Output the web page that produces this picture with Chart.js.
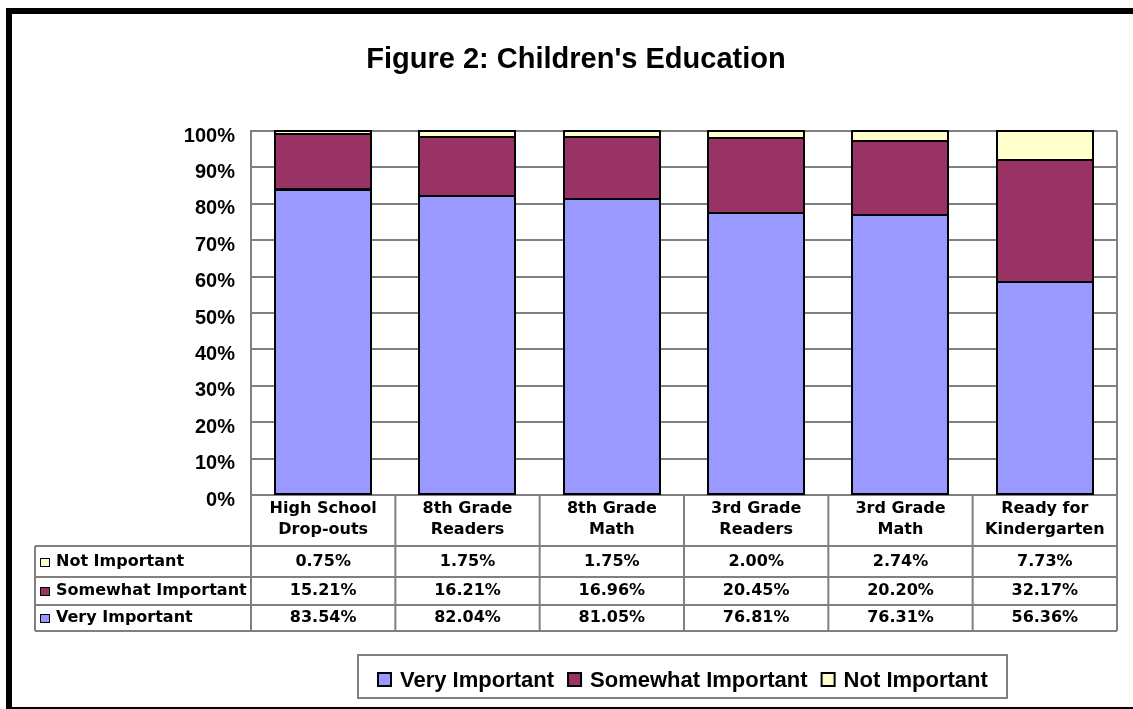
<!DOCTYPE html>
<html><head><meta charset="utf-8">
<script src="https://cdn.jsdelivr.net/npm/chart.js@4/dist/chart.umd.min.js"></script>
<style>html,body{margin:0;padding:0;background:#fff;overflow:hidden}#wrap{width:1133px;height:709px;position:relative}canvas{display:block}</style>
</head><body><div id="wrap"><canvas id="c" width="1133" height="709"></canvas></div>
<script>
const titleText = "Figure 2: Children's Education";
const categories = [["High School","Drop-outs"],["8th Grade","Readers"],["8th Grade","Math"],["3rd Grade","Readers"],["3rd Grade","Math"],["Ready for","Kindergarten"]];
const seriesNames = ["Very Important","Somewhat Important","Not Important"];
const veryImportant = [83.54,82.04,81.05,76.81,76.31,56.36];
const somewhatImportant = [15.21,16.21,16.96,20.45,20.20,32.17];
const notImportant = [0.75,1.75,1.75,2.00,2.74,7.73];
const yTicks = [0,10,20,30,40,50,60,70,80,90,100];
const seriesColors = ['#9999FF','#993366','#FFFFCC'];

const raw = [veryImportant, somewhatImportant, notImportant];
const totals = categories.map((_, i) => raw.reduce((s, arr) => s + arr[i], 0));
const pct = raw.map(arr => arr.map((v, i) => v / totals[i] * 100));

const GRID = '#808080';
const ARIAL = '"Liberation Sans", Arial, sans-serif';
const DEJAVU = '"DejaVu Sans", sans-serif';

const barOutline = {
  id: 'barOutline',
  afterDatasetsDraw(chart) {
    const ctx = chart.ctx;
    ctx.save();
    ctx.strokeStyle = '#000';
    ctx.lineWidth = 2;
    chart.data.datasets.forEach((ds, di) => {
      const meta = chart.getDatasetMeta(di);
      meta.data.forEach(el => {
        const p = el.getProps(['x', 'y', 'base', 'width'], true);
        const top = Math.min(p.y, p.base), h = Math.abs(p.base - p.y);
        ctx.strokeRect(Math.round(p.x - p.width / 2), Math.round(top), Math.round(p.width), Math.round(h));
      });
    });
    ctx.restore();
  }
};

const deco = {
  id: 'deco',
  afterDraw(chart) {
    const ctx = chart.ctx;
    const ca = chart.chartArea;
    const x = chart.scales.x;
    const n = categories.length;
    const colW = (ca.right - ca.left) / n;
    ctx.save();
    // outer frame
    ctx.fillStyle = '#000';
    ctx.fillRect(6, 8, 1133, 6);
    ctx.fillRect(6, 8, 6, 709);
    ctx.fillRect(6, 707, 1133, 6);
    // title
    ctx.font = 'bold 29px ' + ARIAL;
    ctx.textAlign = 'center';
    ctx.textBaseline = 'alphabetic';
    ctx.fillText(titleText, 576, 68);
    // right plot border
    ctx.strokeStyle = GRID;
    ctx.lineWidth = 2;
    ctx.beginPath();
    ctx.moveTo(ca.right, ca.top); ctx.lineTo(ca.right, ca.bottom);
    ctx.stroke();
    // data table
    const tTop = ca.bottom, rowY = [546, 577, 605, 631], tLeft = 35;
    ctx.beginPath();
    for (let i = 0; i <= n; i++) {
      const xx = ca.left + i * colW;
      ctx.moveTo(xx, tTop); ctx.lineTo(xx, rowY[3]);
    }
    ctx.moveTo(tLeft, rowY[0]); ctx.lineTo(tLeft, rowY[3]);
    rowY.forEach(y => { ctx.moveTo(tLeft, y); ctx.lineTo(ca.right, y); });
    ctx.stroke();
    ctx.fillStyle = '#000';
    ctx.textAlign = 'center';
    ctx.textBaseline = 'middle';
    ctx.font = 'bold 16px ' + DEJAVU;
    categories.forEach((lines, i) => {
      const cx = x.getPixelForValue(i);
      ctx.fillText(lines[0], cx, 509);
      ctx.fillText(lines[1], cx, 530);
    });
    const rowOrder = [2, 1, 0];
    const rowCenters = [562, 591, 618];
    rowOrder.forEach((s, r) => {
      const cy = rowCenters[r];
      ctx.textAlign = 'center';
      raw[s].forEach((v, i) => {
        ctx.fillText(v.toFixed(2) + '%', x.getPixelForValue(i), cy);
      });
      ctx.fillStyle = seriesColors[s];
      ctx.fillRect(40, cy - 4, 10, 9);
      ctx.strokeStyle = '#000';
      ctx.lineWidth = 1;
      ctx.strokeRect(40.5, cy - 3.5, 9, 8);
      ctx.fillStyle = '#000';
      ctx.textAlign = 'left';
      ctx.fillText(seriesNames[s], 56, cy);
    });
    // legend box
    const bx0 = 358, bx1 = 1007, by0 = 655, by1 = 698;
    ctx.strokeStyle = GRID;
    ctx.lineWidth = 2;
    ctx.strokeRect(bx0, by0, bx1 - bx0, by1 - by0);
    ctx.font = 'bold 22px ' + ARIAL;
    const keyW = 13, keyGap = 9, itemGap = 14;
    const widths = seriesNames.map(t => ctx.measureText(t).width);
    const total = widths.reduce((a, b) => a + b, 0) + 3 * (keyW + keyGap) + 2 * itemGap;
    let lx = Math.round((bx0 + bx1) / 2 - total / 2);
    const ly = 680;
    ctx.textAlign = 'left';
    ctx.textBaseline = 'middle';
    seriesNames.forEach((t, s) => {
      ctx.fillStyle = seriesColors[s];
      ctx.fillRect(lx, ly - 7, keyW, keyW);
      ctx.strokeStyle = '#000';
      ctx.lineWidth = 2;
      ctx.strokeRect(lx, ly - 7, keyW, keyW);
      lx += keyW + keyGap;
      ctx.fillStyle = '#000';
      ctx.fillText(t, lx, ly + 1);
      lx += widths[s] + itemGap;
    });
    ctx.restore();
  }
};

new Chart(document.getElementById('c'), {
  type: 'bar',
  data: {
    labels: categories.map(c => c.join(' ')),
    datasets: seriesNames.map((name, s) => ({
      label: name,
      data: pct[s],
      backgroundColor: seriesColors[s],
      borderWidth: 0,
      inflateAmount: 0,
      categoryPercentage: 1,
      barPercentage: 0.667
    }))
  },
  options: {
    responsive: false,
    animation: false,
    events: [],
    layout: { padding: { left: 0, right: 16, top: 131, bottom: 214 } },
    plugins: { legend: { display: false }, tooltip: { enabled: false }, title: { display: false } },
    scales: {
      x: { stacked: true, display: false },
      y: {
        stacked: true,
        min: yTicks[0], max: yTicks[yTicks.length - 1],
        afterFit(s) { s.width = 251; },
        afterBuildTicks(s) { s.ticks = yTicks.map(v => ({ value: v })); },
        grid: { color: GRID, lineWidth: 2, drawTicks: false },
        border: { display: true, color: GRID, width: 2 },
        ticks: {
          padding: 16,
          labelOffset: 5,
          color: '#000',
          font: { family: ARIAL, weight: 'bold', size: 20 },
          callback: v => v + '%'
        }
      }
    }
  },
  plugins: [barOutline, deco]
});
</script>
</body></html>
